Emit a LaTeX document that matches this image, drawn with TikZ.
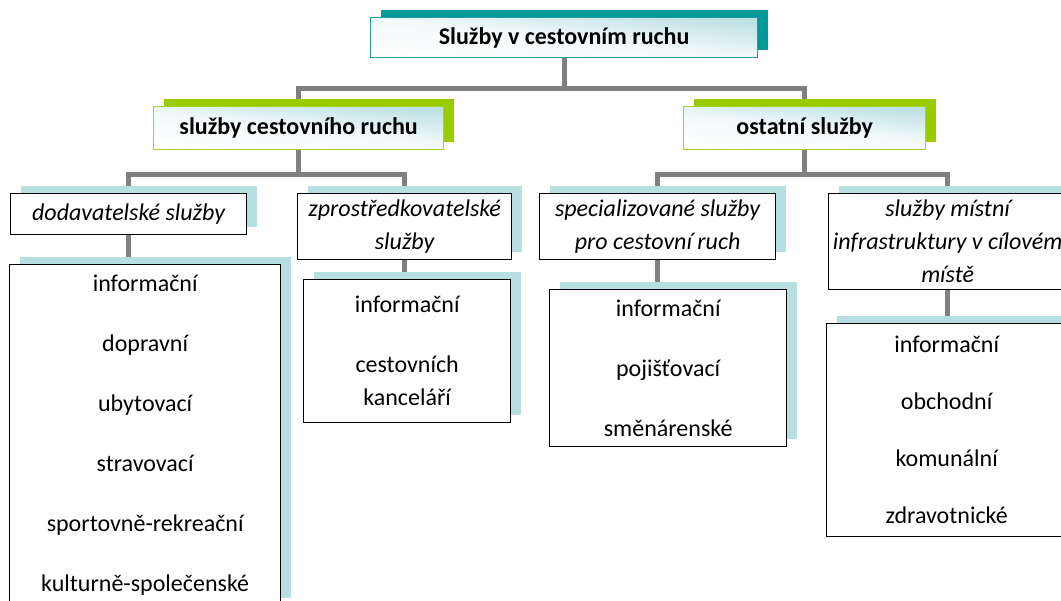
\documentclass[tikz,border=0pt]{standalone}
\usepackage{fontspec}
\setmainfont{Carlito}
\usetikzlibrary{shadows,backgrounds}

\definecolor{tealshade}{HTML}{009999}
\definecolor{tealline}{HTML}{1E9E9E}
\definecolor{limeshade}{HTML}{99CC00}
\definecolor{limeline}{HTML}{A6D22A}
\definecolor{paleshade}{HTML}{B7DEE1}
\definecolor{headfill}{HTML}{BCE0E3}
\definecolor{linkgray}{HTML}{808080}

\def\basefont{\fontsize{24}{33}\selectfont}
\def\skipline{\\[27pt]}

\begin{document}
\begin{tikzpicture}[x=1pt, y=-1pt]
    \tikzstyle{box}=[draw, rectangle, anchor=north west, inner sep=0pt, align=center, line width=1.3pt, font=\basefont]
    \tikzstyle{head}=[box, top color=headfill, bottom color=white, middle color=white!80!headfill, shading angle=-6, font=\basefont\bfseries]
    \tikzstyle{main box}=[head, draw=tealline, general shadow={fill=tealshade, shadow xshift=10.5pt, shadow yshift=8pt}]
    \tikzstyle{group box}=[head, draw=limeline, general shadow={fill=limeshade, shadow xshift=10.5pt, shadow yshift=8pt}]
    \tikzstyle{kind box}=[box, fill=white, font=\basefont\itshape, general shadow={fill=paleshade, shadow xshift=10.5pt, shadow yshift=8pt}]
    \tikzstyle{list box}=[box, fill=white, general shadow={fill=paleshade, shadow xshift=10.5pt, shadow yshift=8pt}]
    \tikzstyle{link}=[draw=linkgray, line width=5pt]

    \useasboundingbox (0,0) rectangle (1061,601);

    % top
    \node[main box, minimum width=387pt, minimum height=40pt] (top) at (370,17) {Služby v cestovním ruchu};

    % two groups
    \node[group box, minimum width=290pt, minimum height=43pt] (cr) at (153,106) {služby cestovního ruchu};
    \node[group box, minimum width=242pt, minimum height=43pt] (os) at (683,106) {ostatní služby};

    % kinds of services
    \node[kind box, minimum width=236pt, minimum height=41pt] (dod) at (10,193) {dodavatelské služby};
    \node[kind box, minimum width=214pt, minimum height=66pt] (zpr) at (297,193) {zprostředkovatelské\\služby};
    \node[kind box, minimum width=236pt, minimum height=66pt] (spe) at (539,193) {specializované služby\\pro cestovní ruch};
    \node[kind box, minimum width=238pt, minimum height=96pt] (mis) at (828,193) {služby místní\\infrastruktury v cílovém\\místě};

    % lists
    \node[list box, minimum width=271pt, minimum height=341pt] (dodL) at (9,264)
        {informační\skipline dopravní\skipline ubytovací\skipline stravovací\skipline sportovně-rekreační\skipline kulturně-společenské};
    \node[list box, minimum width=207pt, minimum height=143pt] (zprL) at (303,279)
        {informační\skipline cestovních\\kanceláří};
    \node[list box, minimum width=237pt, minimum height=157pt] (speL) at (549,289)
        {informační\skipline pojišťovací\skipline směnárenské};
    \node[list box, minimum width=240pt, minimum height=213pt] (misL) at (826,323)
        {informační\\[24pt]obchodní\\[24pt]komunální\\[24pt]zdravotnické};

    \begin{scope}[on background layer]
        \fill[white] (0,0) rectangle (1061,601);
        \foreach \dest in {cr,os}
            \path[link] (top.south) -- ++(0,30) -| (\dest.north);
        \foreach \dest in {dod,zpr}
            \path[link] (cr.south) -- ++(0,24) -| (\dest.north);
        \foreach \dest in {spe,mis}
            \path[link] (os.south) -- ++(0,24) -| (\dest.north);
        \foreach \source / \dest in {dod/dodL, zpr/zprL, spe/speL, mis/misL}
            \path[link] (\source.south) -- (\source.south |- \dest.north);
    \end{scope}
\end{tikzpicture}
\end{document}
